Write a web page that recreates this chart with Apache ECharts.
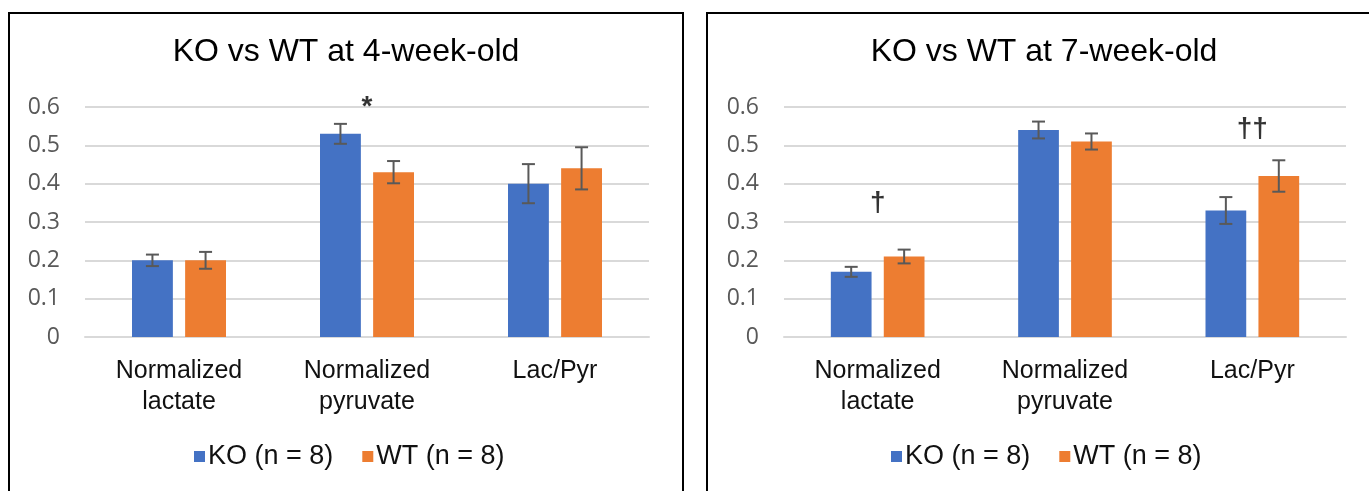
<!DOCTYPE html>
<html>
<head>
<meta charset="utf-8">
<title>KO vs WT</title>
<script src="https://cdn.jsdelivr.net/npm/echarts/dist/echarts.min.js"></script>
<style>
  html, body { margin: 0; padding: 0; background: #fff; overflow: hidden; }
  #chart { width: 1369px; height: 491px; }
</style>
</head>
<body>
<div id="chart"></div>
<script>
// ---- data ----
const categories = ['Normalized\nlactate', 'Normalized\npyruvate', 'Lac/Pyr'];
const seriesNames = ['KO (n = 8)', 'WT (n = 8)'];
const titles = ['KO vs WT at 4-week-old', 'KO vs WT at 7-week-old'];

// 4-week-old
const ko4 = [0.20, 0.53, 0.40];
const wt4 = [0.20, 0.43, 0.44];
const ko4Err = [0.015, 0.026, 0.051];
const wt4Err = [0.022, 0.029, 0.055];

// 7-week-old
const ko7 = [0.17, 0.54, 0.33];
const wt7 = [0.21, 0.51, 0.42];
const ko7Err = [0.013, 0.022, 0.035];
const wt7Err = [0.018, 0.021, 0.041];

// significance markers: [category, value height, symbol]
const sig4 = [['Normalized\npyruvate', 0.60, '*']];
const sig7 = [['Normalized\nlactate', 0.35, '\u2020'], ['Lac/Pyr', 0.543, '\u2020\u2020']];

// ---- layout / style ----
const BLUE = '#4472C4';
const ORANGE = '#ED7D31';
const CAT_GAP = 0.5;   // fraction of band left empty
const BAR_GAP = 0.3;   // gap between KO and WT bars, relative to bar width
const SANS = '"Liberation Sans", Arial, sans-serif';

const chart = echarts.init(document.getElementById('chart'), null, { renderer: 'canvas' });

function errorBars(axisIdx, vals, errs, side) {
  return {
    type: 'custom',
    xAxisIndex: axisIdx,
    yAxisIndex: axisIdx,
    z: 4,
    silent: true,
    data: vals.map((v, i) => [i, v - errs[i], v + errs[i]]),
    encode: { x: 0, y: [1, 2] },
    renderItem(params, api) {
      const lo = api.coord([api.value(0), api.value(1)]);
      const hi = api.coord([api.value(0), api.value(2)]);
      const band = api.size([1, 0])[0];
      const w = band * (1 - CAT_GAP) / (2 + BAR_GAP);
      const x = lo[0] + side * w * (1 + BAR_GAP) / 2;
      const cap = 6.5;
      const st = { stroke: '#595959', lineWidth: 2 };
      return {
        type: 'group',
        children: [
          { type: 'line', shape: { x1: x, y1: lo[1], x2: x, y2: hi[1] }, style: st },
          { type: 'line', shape: { x1: x - cap, y1: hi[1], x2: x + cap, y2: hi[1] }, style: st },
          { type: 'line', shape: { x1: x - cap, y1: lo[1], x2: x + cap, y2: lo[1] }, style: st }
        ]
      };
    }
  };
}

function bars(axisIdx, name, vals, color) {
  return {
    type: 'bar',
    name: name,
    xAxisIndex: axisIdx,
    yAxisIndex: axisIdx,
    data: vals,
    itemStyle: { color: color },
    barCategoryGap: (CAT_GAP * 100) + '%',
    barGap: (BAR_GAP * 100) + '%',
    z: 2
  };
}

function sigLabels(axisIdx, marks) {
  return {
    type: 'scatter',
    xAxisIndex: axisIdx,
    yAxisIndex: axisIdx,
    symbolSize: 0,
    silent: true,
    clip: false,
    z: 5,
    data: marks,
    label: {
      show: true,
      position: 'inside',
      formatter: p => p.value[2],
      color: '#000',
      fontSize: 28,
      fontWeight: 'bold',
      fontFamily: SANS,
      align: 'center',
      verticalAlign: 'middle'
    }
  };
}

const panels = [
  { left: 9, gridLeft: 85, gridRight: 720, legendLeft: 194 },
  { left: 707, gridLeft: 784, gridRight: 23, legendLeft: 891 }
];

const option = {
  backgroundColor: '#fff',
  animation: false,
  graphic: panels.map(p => ({
    type: 'rect',
    shape: { x: p.left, y: 13, width: 674, height: 520 },
    style: { fill: 'none', stroke: '#000', lineWidth: 2 },
    z: 0
  })),
  title: panels.map((p, i) => ({
    text: titles[i],
    left: p.left + 337,
    textAlign: 'center',
    top: 36,
    padding: 0,
    textStyle: { fontFamily: SANS, fontSize: 32, fontWeight: 'normal', color: '#000' }
  })),
  legend: panels.map(p => ({
    data: seriesNames,
    left: p.legendLeft,
    top: 443,
    padding: 0,
    itemWidth: 11,
    itemHeight: 11,
    itemGap: 29,
    icon: 'rect',
    selectedMode: false,
    textStyle: { fontFamily: SANS, fontSize: 27, color: '#111', padding: [0, 0, 0, -2] }
  })),
  grid: panels.map(p => ({
    left: p.gridLeft,
    right: p.gridRight,
    top: 107,
    bottom: 154,
    containLabel: false
  })),
  xAxis: panels.map((p, i) => ({
    type: 'category',
    gridIndex: i,
    data: categories,
    axisTick: { show: false },
    axisLine: { show: true, lineStyle: { color: '#d9d9d9', width: 2 } },
    axisLabel: {
      fontFamily: SANS,
      fontSize: 25,
      lineHeight: 31,
      color: '#111',
      margin: 19,
      interval: 0
    }
  })),
  yAxis: panels.map((p, i) => ({
    type: 'value',
    gridIndex: i,
    min: 0,
    max: 0.6,
    interval: 0.1,
    axisLine: { show: false },
    axisTick: { show: false },
    splitLine: { lineStyle: { color: '#d9d9d9', width: 2 } },
    axisLabel: {
      fontFamily: '"Open Sans", sans-serif',
      fontSize: 23,
      color: '#595959',
      margin: 25,
      formatter: v => String(Math.round(v * 10) / 10)
    }
  })),
  series: [
    bars(0, seriesNames[0], ko4, BLUE),
    bars(0, seriesNames[1], wt4, ORANGE),
    errorBars(0, ko4, ko4Err, -1),
    errorBars(0, wt4, wt4Err, 1),
    sigLabels(0, sig4),
    bars(1, seriesNames[0], ko7, BLUE),
    bars(1, seriesNames[1], wt7, ORANGE),
    errorBars(1, ko7, ko7Err, -1),
    errorBars(1, wt7, wt7Err, 1),
    sigLabels(1, sig7)
  ]
};

chart.setOption(option);
</script>
</body>
</html>
